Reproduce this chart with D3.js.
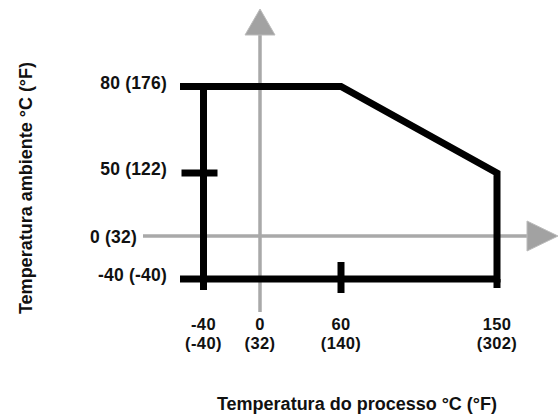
<!DOCTYPE html>
<html>
<head>
<meta charset="utf-8">
<script src="https://cdn.jsdelivr.net/npm/d3@7"></script>
<style>
  body { margin: 0; background: #fff; }
  text { font-family: "Liberation Sans", Arial, sans-serif; font-weight: bold; fill: #111; }
</style>
</head>
<body>
<svg id="chart"></svg>
<script>
// process temperature (°C) ticks and their °F equivalents
const xTicks = [-40, 0, 60, 150];
const xTicksF = [-40, 32, 140, 302];
// ambient temperature (°C) ticks and their °F equivalents
const yTicks = [-40, 0, 50, 80];
const yTicksF = [-40, 32, 122, 176];
// operating envelope corners [process °C, ambient °C]
const envelope = [[-40, -40], [-40, 80], [60, 80], [150, 50], [150, -40]];
// small marks drawn on the envelope edges
const markX = [60];   // on the bottom edge
const markY = [50];   // on the left edge

const xTitle = "Temperatura do processo °C (°F)";
const yTitle = "Temperatura ambiente °C (°F)";

const width = 558, height = 415;
const svg = d3.select("#chart").attr("width", width).attr("height", height);

// schematic chart: axis is not to scale, so a piecewise linear scale is used
const x = d3.scaleLinear().domain(xTicks).range([203.5, 260, 341, 497]);
const y = d3.scaleLinear().domain(yTicks).range([279, 236, 173, 86.5]);

const gray = "#a9a9a9";
const black = "#000";
const lw = 7;

// gray axes through the origin
const axes = svg.append("g");
axes.append("line")
    .attr("x1", x(0)).attr("x2", x(0))
    .attr("y1", 312).attr("y2", 30)
    .attr("stroke", gray).attr("stroke-width", 3.5);
axes.append("path")
    .attr("d", `M${x(0)},9L${x(0) + 15},35L${x(0) - 15},35Z`)
    .attr("fill", "#a2a2a2").attr("stroke", "#bbb").attr("stroke-width", 1);
axes.append("line")
    .attr("x1", 143).attr("x2", 530)
    .attr("y1", y(0)).attr("y2", y(0))
    .attr("stroke", gray).attr("stroke-width", 3.5);
axes.append("path")
    .attr("d", `M558,${y(0)}L527,${y(0) - 15}L527,${y(0) + 15}Z`)
    .attr("fill", "#a2a2a2").attr("stroke", "#bbb").attr("stroke-width", 1);

// envelope outline
const env = svg.append("g");
env.append("path")
    .attr("d", d3.line().x(d => x(d[0])).y(d => y(d[1]))(envelope) + "Z")
    .attr("fill", "none").attr("stroke", black)
    .attr("stroke-width", lw).attr("stroke-linejoin", "miter");

// overhangs past the corners
const xMin = d3.min(envelope, d => d[0]), xMax = d3.max(envelope, d => d[0]);
const yMin = d3.min(envelope, d => d[1]), yMax = d3.max(envelope, d => d[1]);
[yMax, yMin].forEach(v => {
  env.append("line")
      .attr("x1", 180).attr("x2", x(xMin))
      .attr("y1", y(v)).attr("y2", y(v))
      .attr("stroke", black).attr("stroke-width", lw);
});
env.append("line")
    .attr("x1", x(xMin)).attr("x2", x(xMin))
    .attr("y1", y(yMin)).attr("y2", 290)
    .attr("stroke", black).attr("stroke-width", lw);
env.append("line")
    .attr("x1", x(xMax)).attr("x2", x(xMax))
    .attr("y1", y(yMin)).attr("y2", 288)
    .attr("stroke", black).attr("stroke-width", lw);

// marks on the edges
env.selectAll(".mx").data(markX).enter().append("line")
    .attr("x1", d => x(d)).attr("x2", d => x(d))
    .attr("y1", y(yMin) - 17).attr("y2", y(yMin) + 14)
    .attr("stroke", black).attr("stroke-width", lw);
env.selectAll(".my").data(markY).enter().append("line")
    .attr("x1", x(xMin) - 22).attr("x2", x(xMin) + 14)
    .attr("y1", d => y(d)).attr("y2", d => y(d))
    .attr("stroke", black).attr("stroke-width", lw);

// y tick labels
svg.append("g").selectAll("text")
    .data(yTicks).enter().append("text")
    .attr("x", d => d === 0 ? 137 : 167)
    .attr("y", d => y(d) + (d === 0 ? 7 : 2))
    .attr("text-anchor", "end")
    .style("font-size", "17.5px")
    .style("letter-spacing", "0.2px")
    .text((d, i) => `${d} (${yTicksF[i]})`);

// x tick labels, two separate lines
const xg = svg.append("g").selectAll("g")
    .data(xTicks).enter().append("g");
xg.append("text")
    .attr("x", d => x(d)).attr("y", 330)
    .attr("text-anchor", "middle")
    .style("font-size", "16.5px")
    .style("letter-spacing", "0.4px")
    .text(d => d);
xg.append("text")
    .attr("x", d => x(d)).attr("y", 349)
    .attr("text-anchor", "middle")
    .style("font-size", "16.5px")
    .style("letter-spacing", "0.4px")
    .text((d, i) => `(${xTicksF[i]})`);

// titles
svg.append("text")
    .attr("x", 357).attr("y", 410)
    .attr("text-anchor", "middle")
    .style("font-size", "18px")
    .text(xTitle);
svg.append("text")
    .attr("transform", "translate(32,188) rotate(-90)")
    .attr("text-anchor", "middle")
    .style("font-size", "18px")
    .text(yTitle);
</script>
</body>
</html>
